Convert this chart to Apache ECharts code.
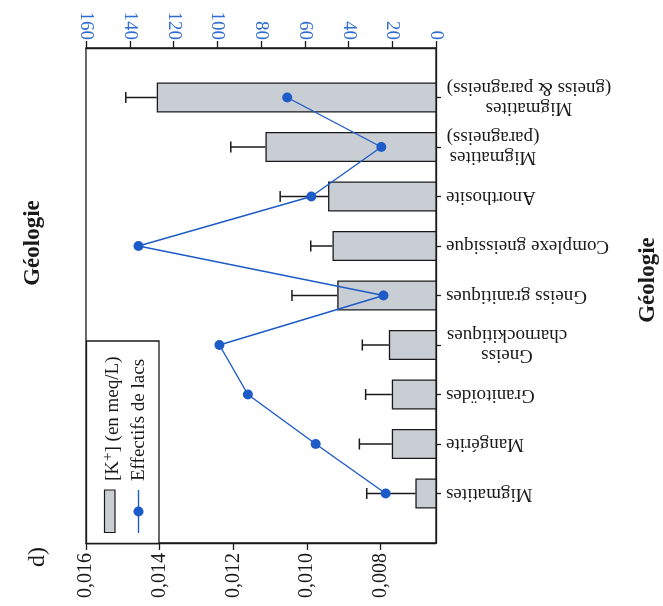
<!DOCTYPE html>
<html>
<head>
<meta charset="utf-8">
<script src="https://cdn.jsdelivr.net/npm/echarts@6/dist/echarts.min.js"></script>
<style>html,body{margin:0;padding:0;background:#fff}#c{width:663px;height:606px}</style>
</head>
<body>
<div id="c"></div>
<script>
const categories = ['Migmatites', 'Mangérite', 'Granitoïdes', 'Gneiss\ncharnockitiques', 'Gneiss granitiques', 'Complexe gneissique', 'Anorthosite', 'Migmatites\n(paragneiss)', 'Migmatites\n(gneiss & paragneiss)'];
const kValues = [0.00706, 0.00770, 0.00770, 0.00778, 0.00918, 0.00931, 0.00943, 0.01113, 0.01408];
const kErrors = [0.00132, 0.00088, 0.00071, 0.00072, 0.00123, 0.00059, 0.00130, 0.00094, 0.00084];
const lakeCounts = [23, 55, 86, 99, 24, 136, 57, 25, 68];
const kTicks = [0.008, 0.010, 0.012, 0.014, 0.016];
const countTicks = [0, 20, 40, 60, 80, 100, 120, 140, 160];

const SERIF = '"Liberation Serif", "Times New Roman", serif';
const CAT_FS = 19;
const BLUE = '#1d5bc8';
const LABEL_BLUE = '#2f6ed0';
const BAR_FILL = '#c9cdd4';
const INK = '#1a1a1a';

// padded category axis (empty slot at each end)
const cats = [''].concat(categories, ['']);
const pad = arr => [null].concat(arr, [null]);

// measure lines to center multi-line labels
const ctx = document.createElement('canvas').getContext('2d');
ctx.font = CAT_FS + 'px ' + SERIF;
const rich = {};
cats.forEach((c, i) => {
  if (c.indexOf('\n') >= 0) {
    const w = Math.max(...c.split('\n').map(l => ctx.measureText(l).width));
    rich['m' + i] = { width: Math.ceil(w) + 1, align: 'center', fontFamily: SERIF, fontSize: CAT_FS, lineHeight: 20, color: INK };
  }
});

const errData = kValues.map((v, i) => [i + 1, v, kErrors[i]]);

const chart = echarts.init(document.getElementById('c'), null, { renderer: 'canvas' });
chart.setOption({
  animation: false,
  grid: { left: 86, right: 227, top: 48, bottom: 63, show: true, borderColor: INK, borderWidth: 1.3, backgroundColor: 'transparent' },
  xAxis: [
    {
      type: 'value', position: 'bottom', inverse: true, min: 0.0065, max: 0.016,
      axisLine: { show: true, onZero: false, lineStyle: { color: INK, width: 1.3 } },
      axisTick: { show: true, customValues: kTicks, length: 7, lineStyle: { color: INK, width: 1.3 } },
      axisLabel: { customValues: kTicks, rotate: 90, margin: 10, fontFamily: SERIF, fontSize: 20, color: INK,
        formatter: v => v.toFixed(3).replace('.', ',') },
      splitLine: { show: false }
    },
    {
      type: 'value', position: 'top', inverse: true, min: 0, max: 160, interval: 20,
      axisLine: { show: true, onZero: false, lineStyle: { color: INK, width: 1.3 } },
      axisTick: { show: true, length: 7, lineStyle: { color: INK, width: 1.3 } },
      axisLabel: { rotate: 90, margin: 8, fontFamily: SERIF, fontSize: 19, color: LABEL_BLUE,
        formatter: v => countTicks.indexOf(v) >= 0 ? String(v) : '' },
      splitLine: { show: false }
    }
  ],
  yAxis: {
    type: 'category', data: cats, position: 'right', boundaryGap: false,
    axisLine: { show: true, lineStyle: { color: INK, width: 1.3 } },
    axisTick: { show: true, length: 5, inside: false, alignWithLabel: true, lineStyle: { color: INK, width: 1.3 },
      interval: (idx) => idx > 0 && idx < cats.length - 1 },
    axisLabel: {
      rotate: 180, margin: 10, fontFamily: SERIF, fontSize: CAT_FS, lineHeight: 20, color: INK, interval: 0, rich: rich,
      formatter: (v, i) => {
        if (!v) return '';
        if (v.indexOf('\n') >= 0) return v.split('\n').map(l => '{m' + i + '|' + l + '}').join('\n');
        return v;
      }
    },
    splitLine: { show: false }
  },
  series: [
    {
      name: '[K+] (en meq/L)', type: 'bar', xAxisIndex: 0, yAxisIndex: 0, data: pad(kValues), barWidth: 30, clip: true,
      itemStyle: { color: BAR_FILL, borderColor: INK, borderWidth: 1.3 }, z: 2
    },
    {
      name: 'erreur', type: 'custom', xAxisIndex: 0, yAxisIndex: 0, data: errData,
      encode: { x: 1, y: 0 }, z: 3,
      renderItem: (params, api) => {
        const cat = api.value(0), v = api.value(1), e = api.value(2);
        const p0 = api.coord([v, cat]);
        const p1 = api.coord([v + e, cat]);
        const h = 5.5;
        const st = { stroke: INK, lineWidth: 1.5 };
        return { type: 'group', children: [
          { type: 'line', shape: { x1: p0[0], y1: p0[1], x2: p1[0], y2: p1[1] }, style: st },
          { type: 'line', shape: { x1: p1[0], y1: p1[1] - h, x2: p1[0], y2: p1[1] + h }, style: st }
        ] };
      }
    },
    {
      name: 'Effectifs de lacs', type: 'line', xAxisIndex: 1, yAxisIndex: 0, data: pad(lakeCounts),
      symbol: 'circle', symbolSize: 10, lineStyle: { color: BLUE, width: 1.4 }, itemStyle: { color: BLUE }, z: 5
    }
  ],
  graphic: [
    { type: 'text', x: 38, y: 557, rotation: Math.PI / 2, z: 10,
      style: { text: 'd)', font: '24px ' + SERIF, fill: INK, align: 'center', verticalAlign: 'middle', textAlign: 'center', textVerticalAlign: 'middle' } },
    { type: 'text', x: 33, y: 243, rotation: Math.PI / 2, z: 10,
      style: { text: 'Géologie', font: 'bold 23px ' + SERIF, fill: INK, align: 'center', verticalAlign: 'middle', textAlign: 'center', textVerticalAlign: 'middle' } },
    { type: 'text', x: 648, y: 280, rotation: Math.PI / 2, z: 10,
      style: { text: 'Géologie', font: 'bold 23px ' + SERIF, fill: INK, align: 'center', verticalAlign: 'middle', textAlign: 'center', textVerticalAlign: 'middle' } },
    { type: 'rect', z: 10, shape: { x: 86.5, y: 341, width: 72.5, height: 202.5 }, style: { fill: '#fff', stroke: INK, lineWidth: 1.3 } },
    { type: 'rect', z: 11, shape: { x: 104.5, y: 490, width: 10.5, height: 42.5 }, style: { fill: BAR_FILL, stroke: INK, lineWidth: 1.2 } },
    { type: 'line', z: 11, shape: { x1: 138.5, y1: 490, x2: 138.5, y2: 533 }, style: { stroke: BLUE, lineWidth: 1.4 } },
    { type: 'circle', z: 12, shape: { cx: 138.5, cy: 511.5, r: 5 }, style: { fill: BLUE } },
    { type: 'text', x: 113, y: 481, rotation: Math.PI / 2, z: 11,
      style: { text: '[K{sup|+}] (en meq/L)', font: '19px ' + SERIF, fill: INK, align: 'left', verticalAlign: 'middle', textAlign: 'left', textVerticalAlign: 'middle',
        rich: { sup: { fontFamily: SERIF, fontSize: 15, padding: [0, 0, 9, 0], fill: INK, color: INK } } } },
    { type: 'text', x: 139, y: 481, rotation: Math.PI / 2, z: 11,
      style: { text: 'Effectifs de lacs', font: '19px ' + SERIF, fill: INK, align: 'left', verticalAlign: 'middle', textAlign: 'left', textVerticalAlign: 'middle' } }
  ]
});
</script>
</body>
</html>
